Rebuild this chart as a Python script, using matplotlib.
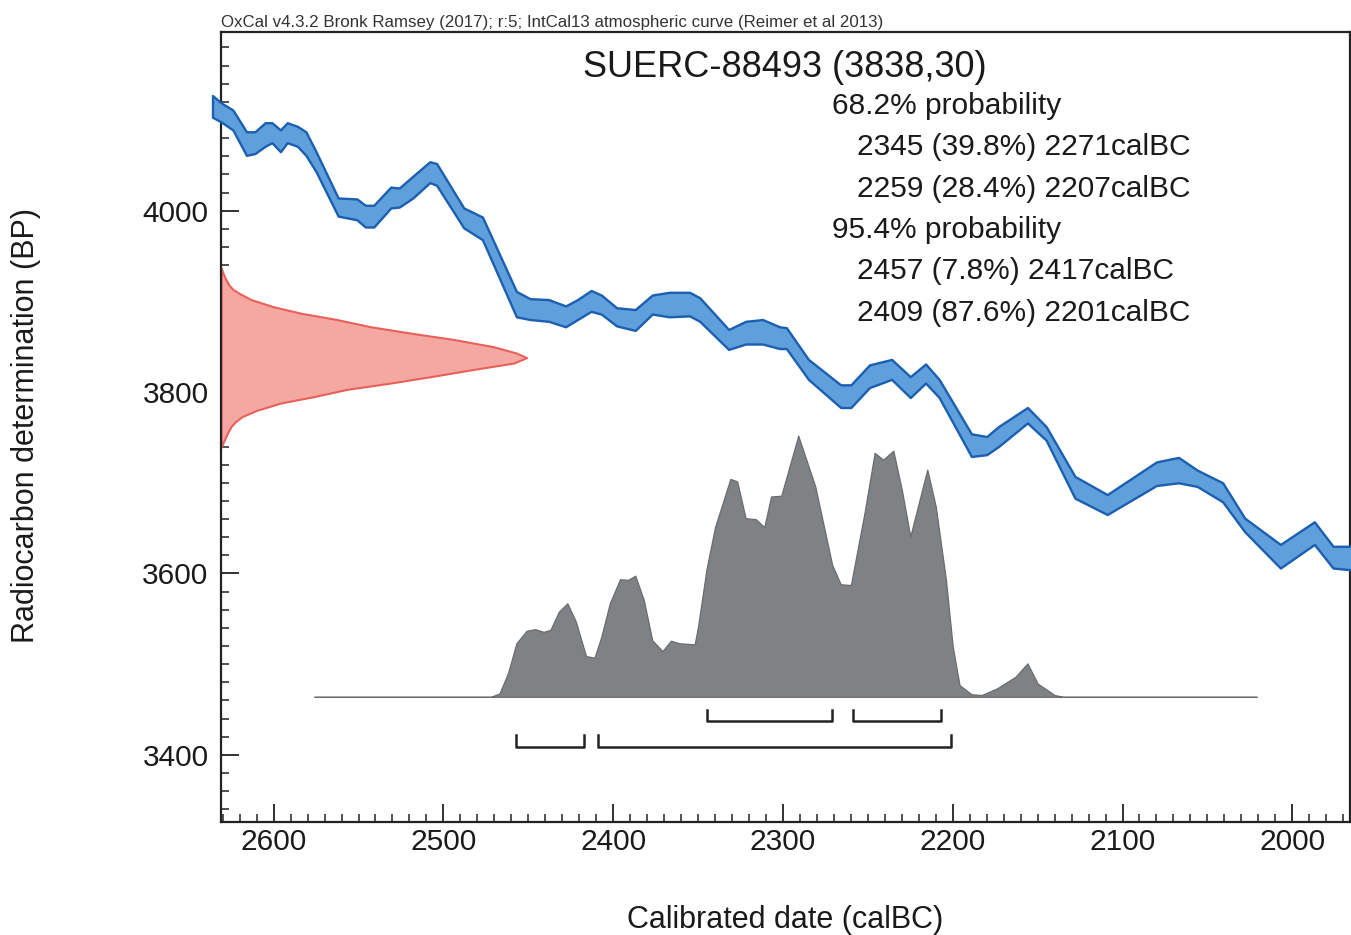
import numpy as np
import matplotlib

matplotlib.use("Agg")
import matplotlib.pyplot as plt
from matplotlib.ticker import MultipleLocator

plt.rcParams["font.family"] = ["Liberation Sans", "DejaVu Sans"]

# calibration curve band (1 sigma): calBC vs BP
curve_years = [2636, 2631, 2624, 2616, 2611, 2605, 2601, 2596, 2592, 2586,
               2581, 2575, 2562, 2551, 2546, 2541, 2531, 2526, 2518, 2508,
               2504, 2488, 2477, 2457, 2449, 2438, 2428, 2421, 2413, 2407,
               2398, 2387, 2377, 2367, 2355, 2349, 2332, 2322, 2312, 2302,
               2298, 2285, 2266, 2260, 2249, 2236, 2225, 2216, 2208, 2189,
               2180, 2173, 2156, 2145, 2128, 2109, 2080, 2067, 2056, 2041,
               2028, 2007, 1987, 1976, 1965]
curve_upper = [4127, 4119, 4111, 4087, 4087, 4097, 4097, 4089, 4097, 4093,
               4087, 4065, 4014, 4013, 4006, 4006, 4026, 4025, 4038, 4054,
               4052, 4003, 3993, 3911, 3903, 3902, 3895, 3902, 3912, 3907,
               3893, 3891, 3907, 3910, 3910, 3904, 3869, 3878, 3880, 3872,
               3871, 3836, 3808, 3808, 3830, 3836, 3817, 3831, 3814, 3754,
               3751, 3762, 3783, 3762, 3707, 3687, 3723, 3728, 3714, 3700,
               3661, 3632, 3657, 3630, 3630]
curve_lower = [4103, 4098, 4089, 4061, 4063, 4071, 4075, 4065, 4075, 4071,
               4061, 4043, 3994, 3990, 3982, 3982, 4003, 4004, 4014, 4031,
               4028, 3981, 3968, 3883, 3880, 3878, 3872, 3880, 3889, 3886,
               3873, 3868, 3886, 3883, 3884, 3878, 3847, 3853, 3853, 3848,
               3848, 3814, 3783, 3783, 3805, 3814, 3794, 3810, 3794, 3729,
               3731, 3740, 3766, 3747, 3683, 3665, 3697, 3700, 3696, 3679,
               3646, 3606, 3632, 3606, 3604]

# radiocarbon measurement (relative density against BP)
meas_bp = [3937, 3930, 3924, 3918, 3913, 3909, 3902, 3894, 3887, 3880,
           3872, 3865, 3858, 3850, 3843, 3838, 3832, 3825, 3817, 3810,
           3803, 3795, 3788, 3780, 3773, 3767, 3762, 3756, 3751, 3745, 3739]
meas_dens = [0, 0.008, 0.016, 0.026, 0.040, 0.059, 0.098, 0.173, 0.261, 0.379,
             0.490, 0.621, 0.762, 0.892, 0.967, 1.0, 0.958, 0.827, 0.686, 0.556,
             0.412, 0.304, 0.196, 0.118, 0.069, 0.046, 0.033, 0.023, 0.016, 0.008, 0]

# calibrated date (relative density against calBC)
cal_years = [2576, 2472, 2467, 2462, 2457, 2451, 2446, 2441, 2437, 2432,
             2427, 2422, 2416, 2411, 2407, 2402, 2396, 2391, 2387, 2382,
             2377, 2371, 2366, 2361, 2352, 2350, 2345, 2340, 2331, 2327,
             2322, 2316, 2311, 2307, 2301, 2291, 2281, 2271, 2266, 2260,
             2252, 2246, 2241, 2235, 2230, 2225, 2215, 2210, 2204, 2200,
             2196, 2189, 2183, 2174, 2163, 2156, 2150, 2140, 2135, 2021]
cal_dens = [0, 0, 0.013, 0.090, 0.205, 0.253, 0.259, 0.249, 0.256, 0.326,
            0.358, 0.288, 0.156, 0.150, 0.230, 0.358, 0.450, 0.448, 0.464, 0.371,
            0.217, 0.175, 0.215, 0.205, 0.201, 0.27, 0.49, 0.65, 0.834, 0.825,
            0.684, 0.680, 0.650, 0.767, 0.770, 1.0, 0.806, 0.505, 0.431, 0.428,
            0.703, 0.934, 0.908, 0.942, 0.793, 0.614, 0.870, 0.729, 0.448, 0.192,
            0.045, 0.010, 0.007, 0.032, 0.077, 0.128, 0.051, 0.007, 0, 0]

lab_code = "SUERC-88493"
c14_age = 3838
c14_err = 30

# (from, percent, to)
ranges_68 = [(2345, 39.8, 2271), (2259, 28.4, 2207)]
ranges_95 = [(2457, 7.8, 2417), (2409, 87.6, 2201)]

x_ticks = [2600, 2500, 2400, 2300, 2200, 2100, 2000]
y_ticks = [3400, 3600, 3800, 4000]

caption = ("OxCal v4.3.2 Bronk Ramsey (2017); r:5; IntCal13 atmospheric curve "
           "(Reimer et al 2013)")

fig = plt.figure(figsize=(13.51, 9.35), dpi=100)
ax = fig.add_axes([221 / 1351, 113 / 935, 1129 / 1351, 790 / 935])
x_left, x_right = 2631, 1966
ax.set_xlim(x_left, x_right)
ax.set_ylim(3326, 4197)

# calibration curve
ax.fill_between(curve_years, curve_lower, curve_upper, facecolor="#5e9fdc",
                edgecolor="#1b5fb0", linewidth=1.7, clip_on=False, zorder=3)

# measurement on the y axis
meas_w = np.asarray(meas_dens) * 180
ax.fill_betweenx(meas_bp, x_left, x_left - meas_w, facecolor="#f5a8a2",
                 edgecolor="#e8605a", linewidth=1.5, zorder=2)

# calibrated distribution
base, height = 3464, 288
ax.fill_between(cal_years, base, base + np.asarray(cal_dens) * height,
                facecolor="#7f8285", edgecolor="#6a6c6f", linewidth=0.9, zorder=2)

# range brackets
for ranges, lev in ((ranges_68, 3437), (ranges_95, 3409)):
    for r0, _, r1 in ranges:
        ax.plot([r0, r0, r1, r1], [lev + 13, lev, lev, lev + 13],
                color="#222222", lw=1.8, zorder=4)

# text block
ax.text(0.3206, 0.9427, f"{lab_code} ({c14_age},{c14_err})", transform=ax.transAxes,
        fontsize=26, va="baseline", ha="left", color="#1a1a1a")
lines = [("68.2% probability", 0)]
lines += [(f"{a} ({p}%) {b}calBC", 1) for a, p, b in ranges_68]
lines += [("95.4% probability", 0)]
lines += [(f"{a} ({p}%) {b}calBC", 1) for a, p, b in ranges_95]
for i, (txt, indent) in enumerate(lines):
    ax.text(0.5412 + 0.0221 * indent, 0.8962 - 0.05228 * i, txt,
            transform=ax.transAxes, fontsize=21.5, va="baseline", ha="left",
            color="#1a1a1a")

# axes styling
ax.set_xticks(x_ticks)
ax.set_yticks(y_ticks)
ax.xaxis.set_minor_locator(MultipleLocator(10))
ax.yaxis.set_minor_locator(MultipleLocator(20))
ax.tick_params(which="both", direction="in", top=False, right=False,
               colors="#222222", labelcolor="#1a1a1a", labelsize=21.5)
ax.tick_params(which="major", length=13, width=1.3)
ax.tick_params(which="minor", length=6, width=1.1)
ax.tick_params(axis="x", pad=4)
ax.tick_params(axis="y", pad=9)
for sp in ax.spines.values():
    sp.set_linewidth(1.6)
    sp.set_color("#222222")

fig.text(221 / 1351, 1 - 27 / 935, caption, fontsize=12.2, va="baseline",
         ha="left", color="#333333")
fig.text(785 / 1351, 0.0075, "Calibrated date (calBC)", fontsize=22,
         va="baseline", ha="center", color="#1a1a1a")
fig.text(26 / 1351, 0.5444, "Radiocarbon determination (BP)", fontsize=22,
         rotation=90, va="center", ha="center", color="#1a1a1a")

fig.savefig("out.png", dpi=100)
